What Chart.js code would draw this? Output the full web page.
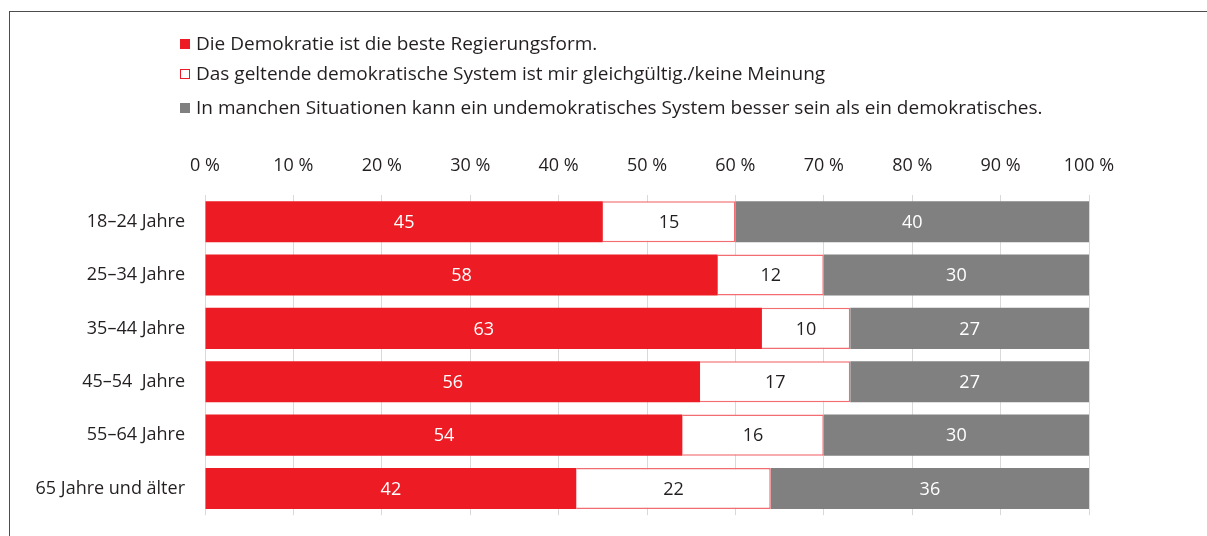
<!DOCTYPE html>
<html>
<head>
<meta charset="utf-8">
<script src="https://cdn.jsdelivr.net/npm/chart.js@4/dist/chart.umd.min.js"></script>
<style>
  html, body { margin: 0; padding: 0; background: #fff; }
  body { width: 1207px; height: 536px; position: relative; overflow: hidden; font-family: "Open Sans", sans-serif; color: #231f20; }
  #frame { position: absolute; left: 9px; top: 11px; width: 1210px; height: 540px; border-left: 1.5px solid #4d4d4d; border-top: 1.5px solid #4d4d4d; }
  #chart_demokratie { position: absolute; left: 0; top: 0; }
  #legend { position: absolute; left: 180px; top: 30px; font-size: 19px; }
  .item { position: absolute; left: 0; white-space: nowrap; line-height: 26px; }
  .box { display: inline-block; width: 10px; height: 10px; margin-right: 6px; vertical-align: 1px; box-sizing: border-box; }
</style>
</head>
<body>
<div id="frame"></div>
<canvas id="chart_demokratie" width="1207" height="538"></canvas>
<div id="legend"></div>
<script>
var categories = ['18–24 Jahre', '25–34 Jahre', '35–44 Jahre', '45–54  Jahre', '55–64 Jahre', '65 Jahre und älter'];
var besteForm = [45, 58, 63, 56, 54, 42];
var gleichgueltig = [15, 12, 10, 17, 16, 22];
var undemokratisch = [40, 30, 27, 27, 30, 36];
var seriesLabels = [
    'Die Demokratie ist die beste Regierungsform.',
    'Das geltende demokratische System ist mir gleichgültig./keine Meinung',
    'In manchen Situationen kann ein undemokratisches System besser sein als ein demokratisches.'
];
var tickLabels = ['0 %', '10 %', '20 %', '30 %', '40 %', '50 %', '60 %', '70 %', '80 %', '90 %', '100 %'];

var RED = '#ed1c24';
var GREY = '#808080';
var TEXT = '#231f20';
var FONT = '"Open Sans", sans-serif';

// legend as html, one line per series
var legendTops = [0, 30, 64];
var legendStyles = [
    { bg: RED, border: RED },
    { bg: '#fff', border: RED },
    { bg: GREY, border: GREY }
];
var legendEl = document.getElementById('legend');
seriesLabels.forEach(function (txt, i) {
    var d = document.createElement('div');
    d.className = 'item';
    d.style.top = legendTops[i] + 'px';
    var b = document.createElement('span');
    b.className = 'box';
    b.style.background = legendStyles[i].bg;
    b.style.border = '1px solid ' + legendStyles[i].border;
    d.appendChild(b);
    d.appendChild(document.createTextNode(txt));
    legendEl.appendChild(d);
});

var valueLabels = {
    id: 'valueLabels',
    afterDatasetsDraw: function (chart) {
        var ctx = chart.ctx;
        ctx.save();
        ctx.font = '18px ' + FONT;
        ctx.textAlign = 'center';
        ctx.textBaseline = 'middle';
        chart.data.datasets.forEach(function (ds, di) {
            var meta = chart.getDatasetMeta(di);
            meta.data.forEach(function (bar, i) {
                var cx = (bar.x + bar.base) / 2;
                ctx.fillStyle = di === 1 ? TEXT : '#fff';
                ctx.fillText(String(ds.data[i]), cx, bar.y + 1);
            });
        });
        ctx.restore();
    }
};

var chart_demokratie = new Chart(document.getElementById('chart_demokratie'), {
    type: 'bar',
    data: {
        labels: categories,
        datasets: [
            {
                label: seriesLabels[0],
                data: besteForm,
                backgroundColor: RED,
                borderWidth: 0
            },
            {
                label: seriesLabels[1],
                data: gleichgueltig,
                backgroundColor: '#fff',
                borderColor: '#f26d72',
                borderWidth: 1.5
            },
            {
                label: seriesLabels[2],
                data: undemokratisch,
                backgroundColor: GREY,
                borderWidth: 0
            }
        ]
    },
    options: {
        indexAxis: 'y',
        animation: false,
        responsive: false,
        barPercentage: 0.77,
        categoryPercentage: 1,
        layout: {
            padding: { left: 0, right: 118, top: 140, bottom: 0 }
        },
        plugins: {
            legend: { display: false },
            tooltip: { enabled: false }
        },
        scales: {
            x: {
                type: 'linear',
                position: 'top',
                stacked: true,
                min: 0,
                max: 100,
                border: { display: false },
                grid: { color: '#d9d9d9', lineWidth: 1, drawTicks: false },
                ticks: {
                    stepSize: 10,
                    padding: 18,
                    color: TEXT,
                    font: { family: FONT, size: 18 },
                    callback: function (v) { return tickLabels[Math.round(v / 10)]; }
                },
                afterFit: function (scale) { scale.height = 55; }
            },
            y: {
                stacked: true,
                border: { display: false },
                grid: { display: false },
                ticks: {
                    padding: 12,
                    color: TEXT,
                    font: { family: FONT, size: 18 }
                },
                afterFit: function (scale) { scale.width = 205; }
            }
        }
    },
    plugins: [valueLabels]
});
</script>
</body>
</html>
